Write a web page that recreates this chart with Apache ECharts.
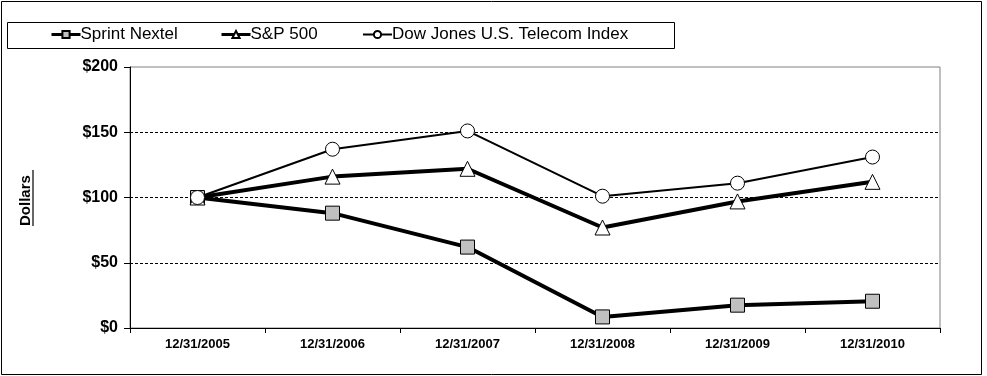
<!DOCTYPE html>
<html><head><meta charset="utf-8">
<script src="https://cdn.jsdelivr.net/npm/echarts@6/dist/echarts.min.js"></script>
<style>html,body{margin:0;padding:0;background:#fff}#c{width:987px;height:376px}</style>
</head><body><div id="c"></div>
<script>
const categories = ['12/31/2005','12/31/2006','12/31/2007','12/31/2008','12/31/2009','12/31/2010'];
const sprint = [100, 88, 62, 8.5, 17.5, 20.5];
const sp500 = [100, 116, 122, 77, 97, 112];
const dowjones = [100, 137, 151, 101, 111, 131];
const yTicks = [0, 50, 100, 150, 200];

const F = 'Liberation Sans, Arial, sans-serif';
const chart = echarts.init(document.getElementById('c'), null, {renderer:'canvas'});
const legendBase = {
  top: 26, itemWidth: 29, itemHeight: 9, itemGap: 0,
  textStyle: {fontFamily: F, fontSize: 17, color: '#000', padding: [0,0,0,-5]},
  padding: 0, selectedMode: false
};
chart.setOption({
  animation: false,
  backgroundColor: '#fff',
  graphic: [
    {type:'rect', shape:{x:1.5, y:1.5, width:980, height:373}, style:{fill:'none', stroke:'#000', lineWidth:1}, z:100},
    {type:'rect', shape:{x:7.5, y:22.5, width:667, height:26}, style:{fill:'none', stroke:'#000', lineWidth:1}, z:100},
    {type:'text', x:18, y:226, rotation:Math.PI/2, style:{text:'Dollars', font:'bold 15px ' + F, fill:'#000', textAlign:'left', textVerticalAlign:'top'}},
    {type:'line', shape:{x1:33, y1:170, x2:33, y2:226}, style:{stroke:'#000', lineWidth:1.2}}
  ],
  legend: [
    Object.assign({}, legendBase, {left: 50, data:[{name:'Sprint Nextel', lineStyle:{width:3}}]}),
    Object.assign({}, legendBase, {left: 220, data:[{name:'S&P 500', lineStyle:{width:3}}]}),
    Object.assign({}, legendBase, {left: 362, data:[{name:'Dow Jones U.S. Telecom Index', lineStyle:{width:2}}]})
  ],
  grid: {left:130, right:47, top:67, bottom:48, show:true, borderColor:'#808080', borderWidth:1, backgroundColor:'#fff'},
  xAxis: {
    type:'category', data: categories, boundaryGap:true,
    axisLine:{lineStyle:{color:'#000', width:1}},
    axisTick:{show:true, alignWithLabel:false, length:5, lineStyle:{color:'#000'}},
    axisLabel:{fontFamily:F, fontSize:13, fontWeight:'bold', color:'#000', margin:10}
  },
  yAxis: {
    type:'value', min: yTicks[0], max: yTicks[yTicks.length-1], interval: 50,
    axisLine:{show:true, lineStyle:{color:'#000', width:1}},
    axisTick:{show:true, length:6, lineStyle:{color:'#000'}},
    axisLabel:{fontFamily:F, fontSize:16, fontWeight:'bold', color:'#000', margin:12, formatter: v => '$' + v},
    splitLine:{show:true, showMinLine:false, showMaxLine:false, lineStyle:{color:'#000', type:[3,2], width:1}}
  },
  series: [
    {name:'Sprint Nextel', type:'line', data: sprint, symbol:'rect', symbolSize:14,
     lineStyle:{color:'#000', width:4}, itemStyle:{color:'#c0c0c0', borderColor:'#000', borderWidth:1}, z:2},
    {name:'S&P 500', type:'line', data: sp500, symbol:'triangle', symbolSize:15,
     lineStyle:{color:'#000', width:4}, itemStyle:{color:'#fff', borderColor:'#000', borderWidth:1}, z:3},
    {name:'Dow Jones U.S. Telecom Index', type:'line', data: dowjones, symbol:'circle', symbolSize:14,
     lineStyle:{color:'#000', width:2}, itemStyle:{color:'#fff', borderColor:'#000', borderWidth:1}, z:4}
  ]
});
</script></body></html>
